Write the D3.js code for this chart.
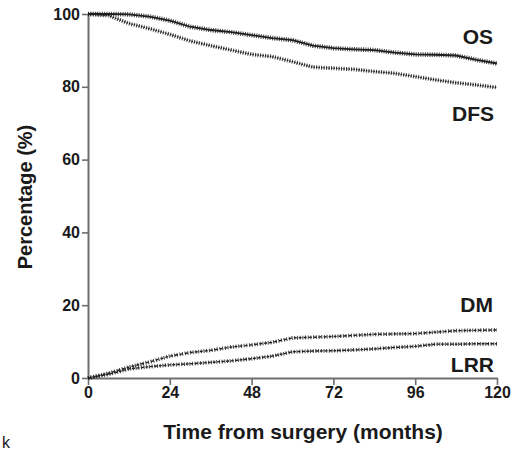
<!DOCTYPE html>
<html>
<head>
<meta charset="utf-8">
<script src="https://cdn.jsdelivr.net/npm/d3@7"></script>
<style>
  body { margin: 0; background: #fff; }
  text { font-family: "Liberation Sans", Arial, sans-serif; }
</style>
</head>
<body>
<script>
// months, every 6 months
let months = [0, 6, 12, 18, 24, 30, 36, 42, 48, 54, 60, 66, 72, 78, 84, 90, 96, 102, 108, 114, 120];

let osVals  = [100, 100, 99.9, 99.3, 98.2, 96.5, 95.6, 95.0, 94.2, 93.4, 92.8, 91.3, 90.6, 90.3, 90.1, 89.4, 88.9, 88.8, 88.6, 87.4, 86.4];
let dfsVals = [100, 99.6, 97.4, 96.0, 94.4, 92.6, 91.3, 90.1, 88.9, 88.3, 86.9, 85.4, 85.1, 84.8, 84.2, 83.7, 82.8, 81.9, 81.1, 80.5, 79.8];
let dmVals  = [0, 1.3, 3.0, 4.4, 6.0, 7.0, 7.6, 8.5, 9.1, 9.8, 11.0, 11.2, 11.4, 11.7, 12.0, 12.1, 12.2, 12.6, 13.0, 13.1, 13.2];
let lrrVals = [0, 1.0, 2.5, 3.1, 3.6, 3.9, 4.3, 4.7, 5.3, 6.0, 7.2, 7.4, 7.5, 7.7, 8.0, 8.4, 8.7, 9.3, 9.3, 9.4, 9.4];

let xTicks = [0, 24, 48, 72, 96, 120];
let yTicks = [0, 20, 40, 60, 80, 100];

let seriesNames = ['OS', 'DFS', 'DM', 'LRR'];

let w = 526, h = 453;

let svg = d3.select('body')
    .append('svg')
    .attr('width', w)
    .attr('height', h);

let x = d3.scaleLinear().domain([0, 120]).range([88, 497]);
let y = d3.scaleLinear().domain([0, 100]).range([378, 14]);

// axes
let xAxis = svg.append('g')
    .attr('transform', 'translate(0,378)')
    .call(d3.axisBottom(x).tickValues(xTicks).tickSize(7).tickSizeOuter(0));

let yAxis = svg.append('g')
    .attr('transform', 'translate(88,0)')
    .call(d3.axisLeft(y).tickValues(yTicks).tickSize(6).tickSizeOuter(0));

[xAxis, yAxis].forEach(g => {
  g.select('.domain').attr('stroke', '#6e6e6e').attr('stroke-width', 2);
  g.selectAll('.tick line').attr('stroke', '#6e6e6e').attr('stroke-width', 1.6);
  g.selectAll('.tick text')
    .attr('fill', '#1a1a1a')
    .style('font-weight', 'bold')
    .style('font-family', '"Liberation Sans", Arial, sans-serif');
});
xAxis.selectAll('.tick text').style('font-size', '16px').attr('y', 6).attr('dy', '0.85em');
yAxis.selectAll('.tick text').style('font-size', '16px').attr('x', -8);

// curves
let line = d3.line()
    .x((d, i) => x(months[i]))
    .y(d => y(d));

let curves = [
  {vals: osVals,  base: null,  baseW: 1.8, tick: '1,1.3', tickW: 4.6},
  {vals: dfsVals, base: '1.5,1', baseW: 1.3, tick: '1,1.5', tickW: 4},
  {vals: dmVals,  base: '3,2', baseW: 1.4, tick: '1,1.7', tickW: 3.8},
  {vals: lrrVals, base: '3,1.5', baseW: 1.4, tick: '1,1.7', tickW: 3.8}
];

curves.forEach(c => {
  svg.append('path')
    .attr('d', line(c.vals))
    .attr('fill', 'none')
    .attr('stroke', '#1e1e1e')
    .attr('stroke-width', c.baseW)
    .attr('stroke-dasharray', c.base);
  svg.append('path')
    .attr('d', line(c.vals))
    .attr('fill', 'none')
    .attr('stroke', '#222')
    .attr('stroke-width', c.tickW)
    .attr('stroke-dasharray', c.tick)
    .attr('opacity', 0.85);
});

// series labels
let labelPos = [[493, 44], [494, 121], [493, 312], [494, 372]];
seriesNames.forEach((n, i) => {
  svg.append('text')
    .attr('x', labelPos[i][0])
    .attr('y', labelPos[i][1])
    .attr('text-anchor', 'end')
    .style('font-size', '21px')
    .style('font-weight', 'bold')
    .attr('fill', '#1a1a1a')
    .text(n);
});

// axis titles
svg.append('text')
    .attr('x', 303)
    .attr('y', 439)
    .attr('text-anchor', 'middle')
    .style('font-size', '21px')
    .style('font-weight', 'bold')
    .attr('fill', '#1a1a1a')
    .text('Time from surgery (months)');

svg.append('text')
    .attr('transform', 'translate(32,197) rotate(-90)')
    .attr('text-anchor', 'middle')
    .style('font-size', '20px')
    .style('font-weight', 'bold')
    .attr('fill', '#1a1a1a')
    .text('Percentage (%)');

svg.append('text')
    .attr('x', 2)
    .attr('y', 448)
    .style('font-size', '16px')
    .attr('fill', '#1a1a1a')
    .text('k');
</script>
</body>
</html>
